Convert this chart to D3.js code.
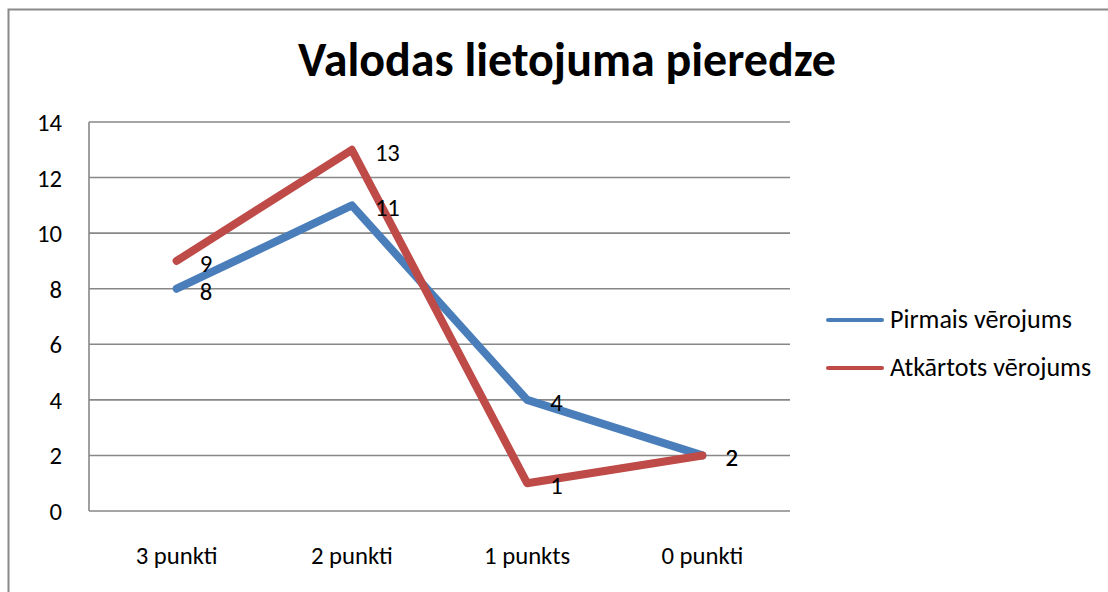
<!DOCTYPE html>
<html><head><meta charset="utf-8">
<script src="https://cdn.jsdelivr.net/npm/d3@7"></script>
<style>html,body{margin:0;padding:0;background:#fff;overflow:hidden}</style>
</head><body>
<svg id="c" width="1108" height="592"></svg>
<script>
const title = "Valodas lietojuma pieredze";
const categories = ["3 punkti", "2 punkti", "1 punkts", "0 punkti"];
const seriesNames = ["Pirmais vērojums", "Atkārtots vērojums"];
const pirmais = [8, 11, 4, 2];
const atkartots = [9, 13, 1, 2];
const yTicks = [0, 2, 4, 6, 8, 10, 12, 14];
const colors = ["#4a7ebb", "#be4b48"];

const FONT = "Calibri, Carlito, Lato, 'Open Sans', sans-serif";
const svg = d3.select("#c");

// outer border (chart area frame, extends past window right/bottom)
svg.append("rect").attr("x", 8.5).attr("y", 9.5).attr("width", 1130).attr("height", 620)
  .attr("fill", "#fff").attr("stroke", "#898989").attr("stroke-width", 2);

const x = d3.scaleBand().domain(categories).range([89, 790]);
const y = d3.scaleLinear().domain([0, 14]).range([511, 122]);
const cx = c => x(c) + x.bandwidth() / 2;

function fitSize(text, target, weight) {
  const t = svg.append("text").attr("font-family", FONT).attr("font-size", 40)
    .attr("font-weight", weight || "normal").text(text);
  const w = t.node().getComputedTextLength();
  t.remove();
  return 40 * target / w;
}
const labelSize = fitSize("3 punkti", 82);
const numSize = Math.min(fitSize("14", 25), labelSize * 1.12);
const legendSize = fitSize("Pirmais vērojums", 182);
const titleSize = fitSize(title, 538, "bold");

// gridlines
const g = svg.append("g");
g.selectAll("line.grid").data(yTicks).join("line").attr("class", "grid")
  .attr("x1", 89).attr("x2", 790).attr("y1", d => y(d)).attr("y2", d => y(d))
  .attr("stroke", "#878787").attr("stroke-width", 1.6);
// vertical axis
g.append("line").attr("x1", 89).attr("x2", 89).attr("y1", y(14)).attr("y2", y(0))
  .attr("stroke", "#878787").attr("stroke-width", 1.6);

// y tick labels
g.selectAll("text.yt").data(yTicks).join("text").attr("class", "yt")
  .attr("x", 62).attr("y", d => y(d) + 9).attr("text-anchor", "end")
  .attr("font-family", FONT).attr("font-size", numSize).attr("fill", "#000").text(d => d);

// x labels
g.selectAll("text.xt").data(categories).join("text").attr("class", "xt")
  .attr("x", d => cx(d)).attr("y", 564).attr("text-anchor", "middle")
  .attr("font-family", FONT).attr("font-size", labelSize).attr("fill", "#000").text(d => d);

// title
svg.append("text").attr("x", 567).attr("y", 76).attr("text-anchor", "middle")
  .attr("font-family", FONT).attr("font-weight", "bold").attr("font-size", titleSize)
  .attr("fill", "#000").text(title);

// lines
const line = d3.line().x((d, i) => cx(categories[i])).y(d => y(d));
[pirmais, atkartots].forEach((s, k) => {
  svg.append("path").datum(s).attr("d", line).attr("fill", "none")
    .attr("stroke", colors[k]).attr("stroke-width", 8)
    .attr("stroke-linecap", "round").attr("stroke-linejoin", "round");
});
// data labels
[pirmais, atkartots].forEach((s, k) => {
  svg.append("g").selectAll("text").data(s).join("text")
    .attr("x", (d, i) => cx(categories[i]) + 23).attr("y", d => y(d) + 11)
    .attr("font-family", FONT).attr("font-size", numSize).attr("fill", "#000").text(d => d);
});

// legend
const lg = svg.append("g");
seriesNames.forEach((n, k) => {
  const ly = 320 + k * 48;
  lg.append("line").attr("x1", 828).attr("x2", 882).attr("y1", ly).attr("y2", ly)
    .attr("stroke", colors[k]).attr("stroke-width", 4).attr("stroke-linecap", "round");
  lg.append("text").attr("x", 890).attr("y", ly + 8).attr("font-family", FONT)
    .attr("font-size", legendSize).attr("fill", "#000").text(n);
});
</script>
</body></html>
